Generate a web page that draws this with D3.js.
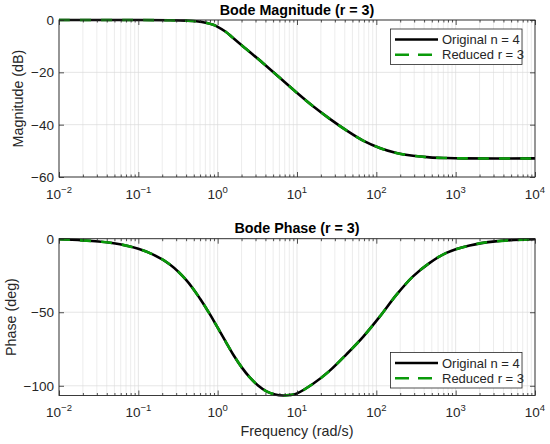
<!DOCTYPE html>
<html>
<head>
<meta charset="utf-8">
<script src="https://cdn.jsdelivr.net/npm/d3@7"></script>
<style>
  body { margin: 0; background: #fff; }
  text { font-family: "Liberation Sans", Arial, sans-serif; fill: #262626; }
</style>
</head>
<body>
<svg width="550" height="444"></svg>
<script>
// values
const freqMag = [0.01, 0.1, 0.25, 0.405, 0.54, 0.73, 0.88, 1.0, 1.25, 1.567, 2.31, 3.74, 6.07, 9.86, 15.96, 25.9, 42.0, 68.1, 110.4, 179, 290, 471, 764, 1230, 10000];
const magOrig = [0, -0.02, -0.1, -0.25, -0.5, -1.15, -1.85, -2.6, -4.4, -6.9, -11.2, -16.5, -22.1, -27.7, -33.0, -37.8, -42.2, -46.1, -48.9, -50.8, -51.9, -52.5, -52.75, -52.88, -52.9];
const magRed  = [0, -0.02, -0.1, -0.25, -0.5, -1.15, -1.85, -2.6, -4.4, -6.9, -11.2, -16.5, -22.1, -27.7, -33.0, -37.8, -42.2, -46.1, -48.9, -50.8, -51.9, -52.5, -52.75, -52.88, -52.9];

const freqPhase = [0.01, 0.0316, 0.0586, 0.1, 0.154, 0.25, 0.405, 0.6, 0.8, 1.0, 1.25, 1.567, 2.0, 2.54, 3.2, 4.13, 5.3, 6.68, 8.1, 9.86, 15.96, 25.9, 42.0, 68.1, 110.4, 179, 290, 471, 764, 1500, 3162, 10000];
const phaseOrig = [-0.4, -1.9, -3.8, -6.9, -10.8, -17.5, -28.3, -40.8, -51.5, -60.5, -69.6, -78.7, -87.3, -94.3, -99.6, -103.8, -105.9, -106.6, -106.3, -105.3, -98.6, -89.7, -78.6, -66.7, -53.0, -38.2, -25.6, -16.4, -9.6, -4.6, -1.8, -0.4];
const phaseRed  = [-0.4, -1.9, -3.8, -6.9, -10.8, -17.5, -28.3, -40.8, -51.5, -60.5, -69.6, -78.7, -87.3, -94.3, -99.6, -103.8, -105.9, -106.6, -106.3, -105.3, -98.6, -89.7, -78.6, -66.7, -53.0, -38.2, -25.6, -16.4, -9.6, -4.6, -1.8, -0.4];

const xTicks = [1e-2, 1e-1, 1e0, 1e1, 1e2, 1e3, 1e4];
const xExps = ['\u22122', '\u22121', '0', '1', '2', '3', '4'];
const magTicks = [0, -20, -40, -60];
const phaseTicks = [0, -50, -100];
const seriesNames = ['Original n = 4', 'Reduced r = 3'];

const svg = d3.select('svg');
const axisColor = '#262626';
const green = '#0a9a0a';

const x = d3.scaleLog().domain([1e-2, 1e4]).range([59, 535]);
const minorTicks = [];
for (let e = -2; e < 4; e++) for (let k = 2; k <= 9; k++) minorTicks.push(k * Math.pow(10, e));

const panels = [
  { top: 20, bottom: 177, domain: [-60, 0], ticks: magTicks, freq: freqMag, orig: magOrig, red: magRed,
    title: 'Bode Magnitude (r = 3)', titleY: 15, ylabel: 'Magnitude (dB)', ylabelX: 23, legendY: 29, id: 'mag' },
  { top: 238.7, bottom: 395.5, domain: [-106.6, 0], ticks: phaseTicks, freq: freqPhase, orig: phaseOrig, red: phaseRed,
    title: 'Bode Phase (r = 3)', titleY: 233, ylabel: 'Phase (deg)', ylabelX: 16, legendY: 352.5, id: 'ph' }
];

panels.forEach(p => {
  const y = d3.scaleLinear().domain(p.domain).range([p.bottom, p.top]);
  const g = svg.append('g');
  const [x0, x1] = x.range();

  // grid
  g.selectAll('.minor').data(minorTicks).enter().append('line')
    .attr('x1', d => x(d)).attr('x2', d => x(d))
    .attr('y1', p.top).attr('y2', p.bottom)
    .attr('stroke', '#e4e4e4').attr('stroke-width', 0.7);
  g.selectAll('.majx').data(xTicks).enter().append('line')
    .attr('x1', d => x(d)).attr('x2', d => x(d))
    .attr('y1', p.top).attr('y2', p.bottom)
    .attr('stroke', '#dadada').attr('stroke-width', 0.7);
  g.selectAll('.majy').data(p.ticks).enter().append('line')
    .attr('x1', x0).attr('x2', x1)
    .attr('y1', d => y(d)).attr('y2', d => y(d))
    .attr('stroke', '#dadada').attr('stroke-width', 0.7);

  // curves
  svg.append('clipPath').attr('id', 'clip-' + p.id).append('rect')
    .attr('x', x0).attr('y', p.top - 2).attr('width', x1 - x0).attr('height', p.bottom - p.top + 4);
  const line = d3.line().x(d => x(d[0])).y(d => y(d[1])).curve(d3.curveCatmullRom.alpha(0.5));
  g.append('path').datum(p.freq.map((f, i) => [f, p.orig[i]]))
    .attr('d', line).attr('fill', 'none').attr('stroke', '#000').attr('stroke-width', 2.6)
    .attr('clip-path', `url(#clip-${p.id})`);
  g.append('path').datum(p.freq.map((f, i) => [f, p.red[i]]))
    .attr('d', line).attr('fill', 'none').attr('stroke', green).attr('stroke-width', 2.6)
    .attr('stroke-dasharray', '11,10')
    .attr('clip-path', `url(#clip-${p.id})`);

  // axes: ticks inward on all four sides
  const ax = g.append('g');
  ax.append('g').attr('transform', `translate(0,${p.bottom})`)
    .call(d3.axisBottom(x).tickValues(xTicks).tickSize(-5).tickFormat(''));
  ax.append('g').attr('transform', `translate(0,${p.bottom})`)
    .call(d3.axisBottom(x).tickValues(minorTicks).tickSize(-2.5).tickFormat(''));
  ax.append('g').attr('transform', `translate(0,${p.top})`)
    .call(d3.axisTop(x).tickValues(xTicks).tickSize(-5).tickFormat(''));
  ax.append('g').attr('transform', `translate(0,${p.top})`)
    .call(d3.axisTop(x).tickValues(minorTicks).tickSize(-2.5).tickFormat(''));
  ax.append('g').attr('transform', `translate(${x0},0)`)
    .call(d3.axisLeft(y).tickValues(p.ticks).tickSize(-5).tickFormat(''));
  ax.append('g').attr('transform', `translate(${x1},0)`)
    .call(d3.axisRight(y).tickValues(p.ticks).tickSize(-5).tickFormat(''));
  ax.selectAll('.domain').remove();
  ax.selectAll('line').attr('stroke', axisColor).attr('stroke-width', 0.8);
  g.append('rect').attr('x', x0).attr('y', p.top).attr('width', x1 - x0).attr('height', p.bottom - p.top)
    .attr('fill', 'none').attr('stroke', axisColor).attr('stroke-width', 0.9);

  // tick labels
  g.selectAll('.xl').data(xTicks).enter().append('text')
    .attr('x', d => x(d)).attr('y', p.bottom + 21.5)
    .attr('text-anchor', 'middle').style('font-size', '13.5px')
    .each(function (d, i) {
      const t = d3.select(this);
      t.append('tspan').text('10');
      t.append('tspan').attr('dy', -6).style('font-size', '9.5px').text(xExps[i]);
    });
  g.selectAll('.yl').data(p.ticks).enter().append('text')
    .attr('x', x0 - 5).attr('y', d => y(d)).attr('dy', '0.36em')
    .attr('text-anchor', 'end').style('font-size', '13.5px')
    .text(d => d < 0 ? '\u2212' + Math.abs(d) : d);

  // title and y label
  g.append('text').attr('x', (x0 + x1) / 2).attr('y', p.titleY)
    .attr('text-anchor', 'middle').style('font-size', '14.3px').style('font-weight', 'bold')
    .style('fill', '#000').text(p.title);
  g.append('text').attr('transform', `translate(${p.ylabelX},${(p.top + p.bottom) / 2}) rotate(-90)`)
    .attr('text-anchor', 'middle').style('font-size', '14.3px').text(p.ylabel);

  // legend
  const lg = g.append('g').attr('transform', `translate(390.5,${p.legendY})`);
  lg.append('rect').attr('width', 131.5).attr('height', 35.5)
    .attr('fill', '#fff').attr('stroke', axisColor).attr('stroke-width', 0.8);
  seriesNames.forEach((name, i) => {
    const ly = 10.5 + i * 15.3;
    lg.append('line').attr('x1', 4.5).attr('x2', 47.5).attr('y1', ly).attr('y2', ly)
      .attr('stroke', i === 0 ? '#000' : green).attr('stroke-width', 2.6)
      .attr('stroke-dasharray', i === 0 ? null : '14,9');
    lg.append('text').attr('x', 51.5).attr('y', ly).attr('dy', '0.36em')
      .style('font-size', '13px').text(name);
  });
});

svg.append('text').attr('x', 297).attr('y', 436)
  .attr('text-anchor', 'middle').style('font-size', '14.3px').text('Frequency (rad/s)');
</script>
</body>
</html>
